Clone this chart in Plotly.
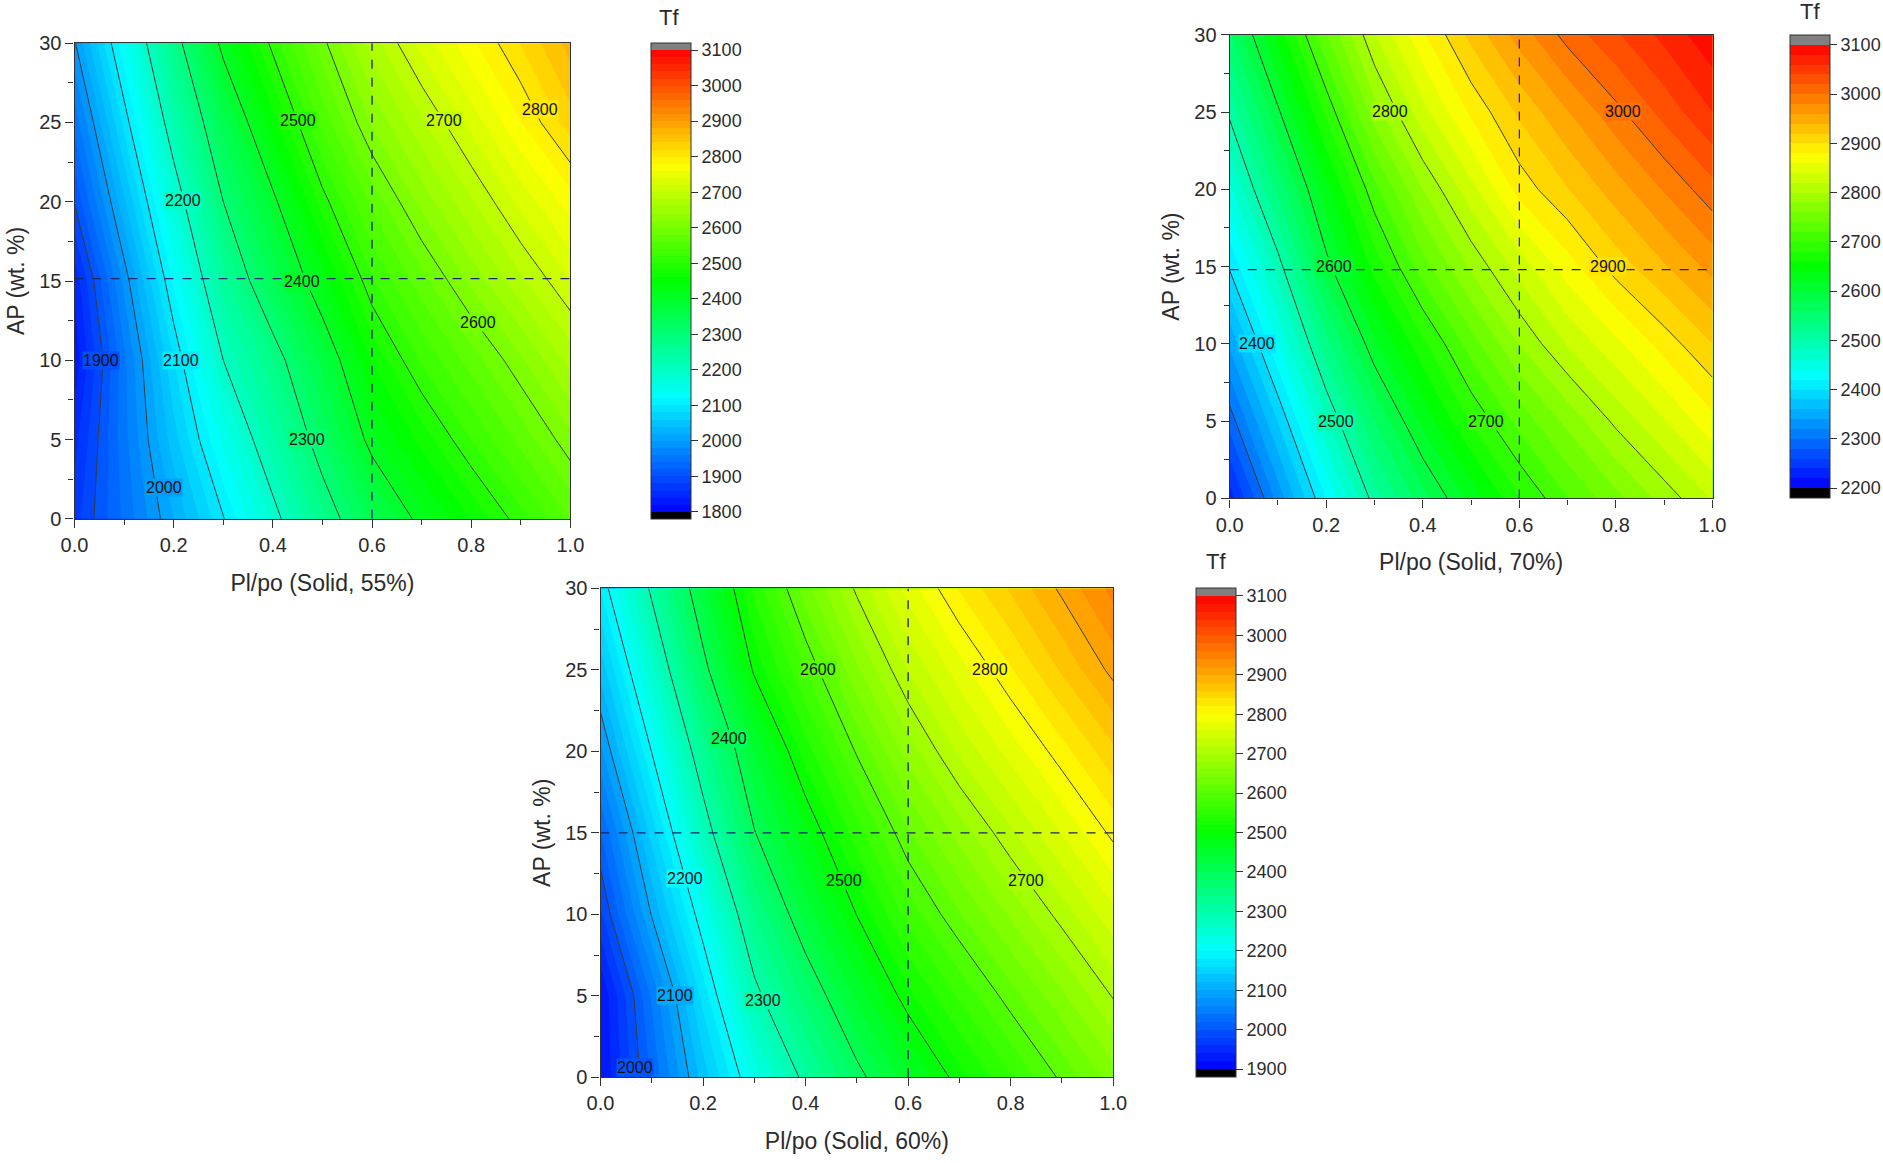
import plotly.graph_objects as go

W, H = 1883, 1163

# ---------------- data ----------------
pl_po = [0.0, 0.1, 0.2, 0.3, 0.4, 0.5, 0.6, 0.7, 0.8, 0.9, 1.0]
ap_wt = [0, 5, 10, 15, 20, 25, 30]

# Tf, rows = AP 0..30, cols = Pl/po 0..1  (Solid 55%)
tf_55 = [
    [1871, 1945, 2020, 2098, 2185, 2273, 2348, 2412, 2462, 2512, 2562],
    [1853, 1952, 2051, 2146, 2236, 2323, 2414, 2467, 2520, 2567, 2614],
    [1826, 1954, 2079, 2200, 2278, 2366, 2462, 2523, 2569, 2616, 2667],
    [1845, 1986, 2124, 2251, 2343, 2429, 2517, 2572, 2625, 2675, 2720],
    [1902, 2036, 2173, 2300, 2391, 2490, 2566, 2627, 2677, 2727, 2770],
    [1947, 2086, 2226, 2349, 2452, 2547, 2623, 2676, 2728, 2779, 2831],
    [1997, 2136, 2277, 2413, 2508, 2593, 2670, 2728, 2775, 2821, 2868],
]
# Solid 60%
tf_60 = [
    [1919, 2024, 2129, 2227, 2311, 2388, 2453, 2512, 2558, 2605, 2650],
    [1920, 2043, 2167, 2288, 2369, 2446, 2514, 2563, 2611, 2656, 2702],
    [1976, 2102, 2218, 2339, 2429, 2501, 2568, 2618, 2664, 2709, 2754],
    [2019, 2147, 2277, 2398, 2476, 2551, 2617, 2668, 2716, 2761, 2806],
    [2075, 2201, 2328, 2441, 2530, 2603, 2669, 2724, 2768, 2812, 2855],
    [2127, 2255, 2387, 2505, 2581, 2656, 2721, 2771, 2818, 2863, 2907],
    [2181, 2308, 2433, 2545, 2632, 2705, 2769, 2822, 2863, 2905, 2947],
]
# Solid 70%
tf_70 = [
    [2230, 2328, 2421, 2510, 2572, 2627, 2678, 2719, 2754, 2788, 2822],
    [2289, 2381, 2478, 2560, 2626, 2682, 2727, 2766, 2805, 2839, 2874],
    [2344, 2439, 2533, 2616, 2675, 2730, 2781, 2822, 2855, 2889, 2920],
    [2403, 2490, 2592, 2668, 2731, 2784, 2829, 2871, 2909, 2938, 2967],
    [2455, 2545, 2634, 2714, 2780, 2833, 2888, 2919, 2950, 2982, 3013],
    [2505, 2596, 2684, 2771, 2833, 2884, 2924, 2959, 2994, 3027, 3060],
    [2557, 2648, 2739, 2819, 2877, 2926, 2969, 3008, 3037, 3066, 3095],
]

# contour label texts and where they sit (Pl/po, AP)
lab_55_val = [1900, 2000, 2100, 2200, 2300, 2400, 2500, 2600, 2700, 2800]
lab_55_x = [0.054, 0.181, 0.214, 0.218, 0.468, 0.459, 0.451, 0.814, 0.746, 0.938]
lab_55_y = [10.0, 2.0, 10.0, 20.1, 5.0, 15.0, 25.1, 12.4, 25.1, 25.8]
lab_60_val = [2000, 2100, 2200, 2300, 2400, 2500, 2600, 2700, 2800]
lab_60_x = [0.067, 0.145, 0.164, 0.317, 0.251, 0.475, 0.425, 0.830, 0.760]
lab_60_y = [0.6, 5.0, 12.2, 4.7, 20.8, 12.1, 25.0, 12.1, 25.0]
lab_70_val = [2400, 2500, 2600, 2700, 2800, 2900, 3000]
lab_70_x = [0.057, 0.220, 0.215, 0.530, 0.333, 0.784, 0.815]
lab_70_y = [10.0, 5.0, 15.0, 5.0, 25.05, 15.0, 25.05]

x_titles = ["Pl/po (Solid, 55%)", "Pl/po (Solid, 60%)", "Pl/po (Solid, 70%)"]
y_title = "AP (wt. %)"
cbar_min = [1800, 1900, 2200]
cbar_max = 3100
ref_x = [0.6, 0.6, 0.6]
ref_y = [15.15, 15.0, 14.8]

# ---------------- layout geometry (pixels) ----------------
boxes = [(74.5, 570.4, 43.2, 518.8), (600.5, 1113.2, 588.4, 1077.2), (1229.7, 1712.5, 34.8, 498.4)]
cbars = [(651, 43, 519), (1196, 588, 1077), (1790, 35, 498)]   # left, top, bottom
tf_pos = [(669, 17), (1216, 561), (1810, 11)]

FONT = "Arial, 'Liberation Sans', sans-serif"
TXT = "#2b2b2b"

RAINBOW = [(0.0, (0, 0, 255)), (0.25, (0, 255, 255)), (0.5, (0, 255, 0)),
           (0.75, (255, 255, 0)), (1.0, (255, 0, 0))]


def rb_color(v, cmin):
    t = (v - cmin) / (cbar_max - cmin)
    t = max(0.0, min(1.0, t))
    for (t0, c0), (t1, c1) in zip(RAINBOW[:-1], RAINBOW[1:]):
        if t <= t1:
            u = (t - t0) / (t1 - t0)
            c = [round(a + (b - a) * u) for a, b in zip(c0, c1)]
            return "rgb(%d,%d,%d)" % tuple(c)
    return "rgb(255,0,0)"


def rainbow_scale(lo_v, hi_v, cmin):
    span = hi_v - lo_v
    f = lambda v: (v - lo_v) / span
    r = cbar_max - cmin
    sc = [[0.0, "rgb(0,0,0)"], [f(cmin), "rgb(0,0,0)"]]
    first = True
    for t, c in RAINBOW:
        pos = f(cmin + t * r) + (1e-6 if first else 0)
        first = False
        sc.append([pos, "rgb(%d,%d,%d)" % c])
    sc += [[f(cbar_max) + 1e-6, "rgb(128,128,128)"], [1.0, "rgb(128,128,128)"]]
    return sc


fig = go.Figure()
datasets = [tf_55, tf_60, tf_70]
labels = [(lab_55_val, lab_55_x, lab_55_y), (lab_60_val, lab_60_x, lab_60_y), (lab_70_val, lab_70_x, lab_70_y)]
step = 20
for i, z in enumerate(datasets):
    xa = "x" if i == 0 else f"x{i+1}"
    ya = "y" if i == 0 else f"y{i+1}"
    cmin = cbar_min[i]
    lo_v, hi_v = cmin - step, cbar_max + step
    cl, ct, cb = cbars[i]
    fig.add_trace(go.Contour(
        x=pl_po, y=ap_wt, z=z, xaxis=xa, yaxis=ya,
        colorscale=rainbow_scale(lo_v, hi_v, cmin),
        autocontour=False,
        contours=dict(start=lo_v, end=hi_v, size=step, coloring="fill", showlines=False),
        line=dict(width=0, smoothing=0),
        zmin=lo_v, zmax=hi_v,
        colorbar=dict(
            x=cl / W, xanchor="left", xpad=0,
            y=1 - (ct + cb) / 2 / H, yanchor="middle", ypad=0,
            len=(cb - ct) / H, lenmode="fraction", thickness=40,
            outlinewidth=1, outlinecolor="#333",
            tickvals=list(range(cmin, cbar_max + 1, 100)),
            ticks="outside", ticklen=7, tickcolor="#333",
            tickfont=dict(size=18, color=TXT, family=FONT),
        ),
        hoverinfo="skip",
    ))
    fig.add_trace(go.Contour(
        x=pl_po, y=ap_wt, z=z, xaxis=xa, yaxis=ya,
        autocontour=False,
        contours=dict(start=1800, end=3100, size=100, coloring="none", showlines=True, showlabels=False),
        line=dict(width=1, color="#3a3a3a", smoothing=0),
        showscale=False, hoverinfo="skip",
    ))

layout = dict(width=W, height=H, margin=dict(l=0, r=0, t=0, b=0, autoexpand=False),
              paper_bgcolor="white", plot_bgcolor="white", showlegend=False,
              font=dict(family=FONT, color=TXT))
shapes = []
annotations = []
for i, (l, r, t, b) in enumerate(boxes):
    sx = "" if i == 0 else str(i + 1)
    layout["xaxis" + sx] = dict(
        domain=[l / W, r / W], anchor="y" + sx, range=[0, 1],
        tick0=0, dtick=0.2, tickformat=".1f",
        ticks="outside", ticklen=8, tickwidth=1.2, tickcolor="#333",
        showline=True, linecolor="#333", linewidth=1.2, mirror=True,
        showgrid=False, zeroline=False,
        minor=dict(dtick=0.1, ticks="outside", ticklen=5, tickwidth=1, tickcolor="#333", showgrid=False),
        tickfont=dict(size=20, color=TXT, family=FONT),
        title=dict(text=x_titles[i], font=dict(size=23, color=TXT, family=FONT), standoff=19),
    )
    layout["yaxis" + sx] = dict(
        domain=[1 - b / H, 1 - t / H], anchor="x" + sx, range=[0, 30],
        tick0=0, dtick=5,
        ticks="outside", ticklen=8, tickwidth=1.2, tickcolor="#333",
        showline=True, linecolor="#333", linewidth=1.2, mirror=True,
        showgrid=False, zeroline=False,
        minor=dict(dtick=2.5, ticks="outside", ticklen=5, tickwidth=1, tickcolor="#333", showgrid=False),
        tickfont=dict(size=20, color=TXT, family=FONT),
        title=dict(text=y_title, font=dict(size=23, color=TXT, family=FONT), standoff=8),
    )
    xr = "x" + sx if sx else "x"
    yr = "y" + sx if sx else "y"
    shapes.append(dict(type="line", xref=xr, yref=yr, x0=ref_x[i], x1=ref_x[i], y0=0, y1=30,
                       line=dict(color="#1c2570", width=1.3, dash="dash")))
    shapes.append(dict(type="line", xref=xr, yref=yr, x0=0, x1=1, y0=ref_y[i], y1=ref_y[i],
                       line=dict(color="#1c2570", width=1.3, dash="dash")))
    annotations.append(dict(text="Tf", xref="paper", yref="paper", x=tf_pos[i][0] / W, y=1 - tf_pos[i][1] / H,
                            xanchor="center", yanchor="middle", showarrow=False,
                            font=dict(size=22, color=TXT, family=FONT)))
    vals, lx, ly = labels[i]
    for v, px, py in zip(vals, lx, ly):
        annotations.append(dict(text=str(v), xref=xr, yref=yr, x=px, y=py, showarrow=False,
                                xanchor="center", yanchor="middle", borderpad=0,
                                bgcolor=rb_color(v, cbar_min[i]),
                                font=dict(size=16, color="#111", family=FONT)))
layout["shapes"] = shapes
layout["annotations"] = annotations
fig.update_layout(**layout)
fig.write_html("out.html")
